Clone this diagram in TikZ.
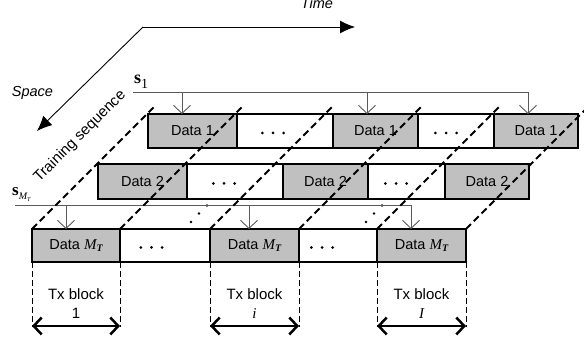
\documentclass[tikz,border=0pt]{standalone}
\usepackage{fontspec}
\setmainfont{Liberation Sans}
\newfontfamily\seriffont{Liberation Serif}
\usetikzlibrary{arrows.meta,calc}
\definecolor{boxgray}{RGB}{192,192,192}
\definecolor{linegray}{RGB}{90,90,90}
\begin{document}
\begin{tikzpicture}[x=1pt,y=-1pt,
  gbox/.style={draw, line width=2.4pt, fill=boxgray, inner sep=0pt, outer sep=0pt,
    font=\fontsize{14.5}{16}\selectfont},
  wbox/.style={draw, line width=2.4pt, fill=white, inner sep=0pt, outer sep=0pt},
  diag/.style={line width=1.8pt, dash pattern=on 7pt off 4pt},
  vdash/.style={line width=1pt, dash pattern=on 6pt off 3pt},
  train/.style={draw=linegray, line width=0.9pt},
  trarrow/.style={train, -{Straight Barb[length=8pt,width=17pt]}},
  spanarrow/.style={line width=2.5pt,
    {Straight Barb[length=8pt,width=17pt]}-{Straight Barb[length=8pt,width=17pt]}},
  axisarrow/.style={line width=0.9pt, -{Latex[length=15pt,width=13pt]}},
  lbl/.style={font=\fontsize{15}{19}\selectfont, inner sep=0pt, align=center},
  mt/.style={}
]
\useasboundingbox (0,0) rectangle (584,347);
\newcommand\dataMT{Data {\fontsize{15}{16}\seriffont\itshape M}\raisebox{-2.5pt}{\fontsize{10}{10}\seriffont\bfseries\itshape T}}

% row 1
\node[gbox, minimum width=89pt, minimum height=34pt] (r1a) at (192.5,131) {Data 1};
\node[wbox, minimum width=96pt, minimum height=34pt] (r1b) at (285,131) {};
\node[gbox, minimum width=85pt, minimum height=34pt] (r1c) at (375.5,131) {Data 1};
\node[wbox, minimum width=76pt, minimum height=34pt] (r1d) at (456,131) {};
\node[gbox, minimum width=84pt, minimum height=34pt] (r1e) at (536,131) {Data 1};
% row 2
\node[gbox, minimum width=89pt, minimum height=35pt] (r2a) at (142.5,181.5) {Data 2};
\node[wbox, minimum width=96pt, minimum height=35pt] (r2b) at (235,181.5) {};
\node[gbox, minimum width=85pt, minimum height=35pt] (r2c) at (325.5,181.5) {Data 2};
\node[wbox, minimum width=77pt, minimum height=35pt] (r2d) at (406.5,181.5) {};
\node[gbox, minimum width=84pt, minimum height=35pt] (r2e) at (487,181.5) {Data 2};
% row 3
\node[gbox, minimum width=88pt, minimum height=33pt] (r3a) at (76,245.5) {\dataMT};
\node[wbox, minimum width=90pt, minimum height=33pt] (r3b) at (165,245.5) {};
\node[gbox, minimum width=89pt, minimum height=33pt] (r3c) at (254.5,245.5) {\dataMT};
\node[wbox, minimum width=78pt, minimum height=33pt] (r3d) at (338,245.5) {};
\node[gbox, minimum width=89pt, minimum height=33pt] (r3e) at (421.5,245.5) {\dataMT};

% ellipsis dots in white boxes
\foreach \n/\dx in {r1b/-12, r1d/-10, r2b/-11, r2d/-10.5, r3b/-13.5, r3d/-16}
  \foreach \k in {-10.6,0,10.6}
    \fill ($(\n.center)+({\dx+\k},2)$) circle (1.5pt);

% diagonal ellipses between rows
\foreach \p in {(207,205.5),(199,213.5),(191,222),(382,205.5),(374,213.5),(366,222)}
  \fill \p circle (1.4pt);

% time / space axes
\coordinate (corner) at (143,27);
\coordinate (timetip) at (355,27);
\coordinate (spacetip) at (37,131);
\draw[axisarrow] (corner) -- (timetip);
\draw[axisarrow] (corner) -- (spacetip);
\node[font=\fontsize{14.5}{16}\selectfont\itshape, anchor=base, inner sep=0pt] (time) at (317,9) {Time};
\node[font=\fontsize{14.5}{16}\selectfont\itshape, anchor=base, inner sep=0pt] (space) at (32.5,97) {Space};
\node[lbl, rotate=45] (trainseq) at (80,136.5) {Training sequence};

% training sequence s_1
\node[anchor=base west, inner sep=0pt] (s1) at (134,84)
  {{\fontsize{18}{18}\seriffont\bfseries s}\raisebox{-5pt}{\fontsize{14}{14}\seriffont 1}};
\coordinate (t1s) at (133,92.5);
\coordinate (t1a) at (182,92.5);
\coordinate (t1b) at (367,92.5);
\coordinate (t1c) at (528,92.5);
\draw[trarrow] (t1s) -- (t1c) -- (t1c |- r1e.north);
\draw[trarrow] (t1a) -- (t1a |- r1a.north);
\draw[trarrow] (t1b) -- (t1b |- r1c.north);

% training sequence s_MT
\node[anchor=base west, inner sep=0pt] (smt) at (12,195.5)
  {{\fontsize{17}{17}\seriffont\bfseries s}\raisebox{-4.5pt}{\fontsize{10}{10}\seriffont\itshape M}\raisebox{-6.5pt}{\fontsize{6}{6}\seriffont\itshape T}};
\coordinate (t3s) at (15,205.5);
\coordinate (t3a) at (66,205.5);
\coordinate (t3b) at (249,205.5);
\coordinate (t3c) at (411,205.5);
\draw[trarrow] (t3s) -- (t3c) -- (t3c |- r3e.north);
\draw[trarrow] (t3a) -- (t3a |- r3a.north);
\draw[trarrow] (t3b) -- (t3b |- r3c.north);

% diagonal dashed lines
\foreach \n in {r3a,r3b,r3c,r3d,r3e}
  \draw[diag] (\n.north west) -- ++(123,-123);
\draw[diag] (r3e.north east) -- ++(123,-123);

% Tx blocks
\foreach \n in {r3a,r3c,r3e} {
  \draw[vdash] (\n.south west) -- ++(0,65);
  \draw[vdash] (\n.south east) -- ++(0,65);
  \draw[spanarrow] ($(\n.south west)+(0,64)$) -- ($(\n.south east)+(0,64)$);
}
\node[lbl] (tx1) at (76,303.5) {Tx block\\1};
\node[lbl] (txi) at (254.5,303.5) {Tx block\\{\seriffont\itshape i}};
\node[lbl] (txI) at (421.5,303.5) {Tx block\\{\seriffont\itshape I}};
\end{tikzpicture}
\end{document}
